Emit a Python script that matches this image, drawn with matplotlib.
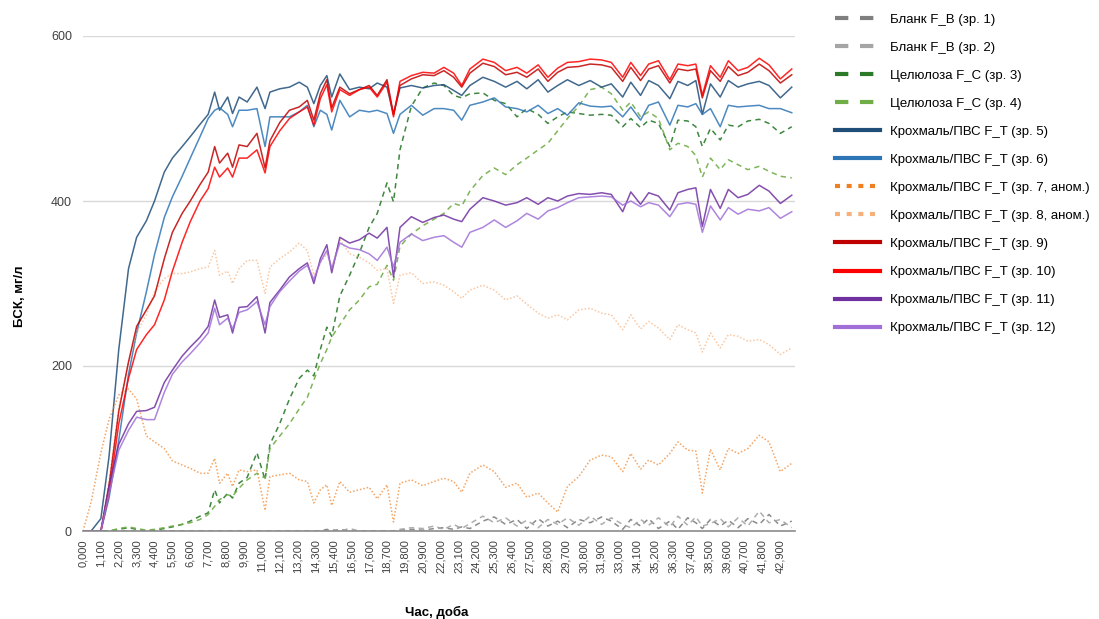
import matplotlib
matplotlib.use("Agg")
import matplotlib.pyplot as plt
from matplotlib.lines import Line2D

plt.rcParams["font.family"] = ["Liberation Sans", "DejaVu Sans"]

# --------------- data ---------------------------------------------------------
days = [0, 0.5, 1.1, 1.6, 2.2, 2.8, 3.3, 3.9, 4.4, 5.0,
        5.5, 6.1, 6.6, 7.2, 7.7, 8.1, 8.4, 8.9, 9.2, 9.6,
        10.1, 10.7, 11.2, 11.5, 12.1, 12.7, 13.3, 13.8, 14.2, 14.6,
        15.0, 15.3, 15.8, 16.4, 17.0, 17.6, 18.1, 18.7, 19.1, 19.5,
        20.2, 20.9, 21.6, 22.2, 22.8, 23.3, 23.8, 24.6, 25.3, 26.0,
        26.7, 27.3, 28.0, 28.6, 29.2, 29.8, 30.5, 31.2, 31.9, 32.5,
        33.2, 33.7, 34.3, 34.8, 35.4, 36.1, 36.6, 37.2, 37.7, 38.1,
        38.6, 39.2, 39.7, 40.3, 40.9, 41.6, 42.2, 42.9, 43.6]

blank_1 = [0, 0, 0, 0, 0, 0, 0, 0, 0, 0,
           0, 0, 0, 0, 0, 0, 0, 0, 0, 0,
           0, 0, 0, 0, 0, 0, 0, 0, 0, 0,
           2, 0, 2, 0, 0, 0, 0, 0, 0, 1,
           2, 1, 3, 4, 2, 5, 3, 12, 17, 8,
           14, 3, 15, 6, 12, 4, 14, 10, 17, 12,
           2, 14, 6, 15, 3, 12, 2, 16, 10, 3,
           14, 6, 13, 4, 15, 8, 20, 6, 12]
blank_2 = [0, 0, 0, 0, 0, 0, 0, 0, 0, 0,
           0, 0, 0, 0, 0, 0, 0, 0, 0, 0,
           0, 0, 0, 0, 0, 0, 0, 0, 0, 0,
           0, 2, 0, 3, 0, 0, 0, 0, 0, 2,
           4, 3, 6, 2, 8, 3, 9, 18, 10, 16,
           6, 13, 4, 14, 8, 16, 7, 18, 8, 16,
           8, 4, 14, 7, 16, 5, 18, 7, 17, 6,
           9, 15, 5, 16, 6, 24, 10, 14, 4]
cell_3 = [0, 0, 0, 0, 2, 4, 2, 0, 1, 3,
          5, 8, 12, 18, 22, 50, 34, 46, 40, 58,
          65, 95, 62, 105, 130, 160, 185, 195, 188, 220,
          247, 236, 285, 310, 337, 368, 385, 422, 399, 462,
          515, 537, 543, 540, 528, 525, 530, 531, 522, 518,
          502, 512, 505, 494, 502, 508, 506, 504, 505, 504,
          490, 500, 489, 498, 494, 466, 498, 497, 490, 466,
          488, 474, 492, 490, 497, 499, 494, 482, 490]
cell_4 = [0, 0, 0, 0, 3, 5, 3, 1, 2, 4,
          6, 8, 10, 14, 20, 30, 38, 44, 42, 52,
          62, 70, 64, 100, 115, 130, 148, 162, 183, 203,
          220, 235, 250, 268, 280, 296, 299, 322, 304, 345,
          360, 370, 378, 385, 397, 394, 412, 431, 440, 432,
          444, 452, 462, 470, 485, 500, 515, 535, 538, 530,
          510, 520, 502, 508, 500, 462, 470, 466, 455, 429,
          452, 438, 450, 444, 438, 442, 436, 430, 428]
st_5 = [0, 0, 15, 90, 220, 318, 356, 376, 400, 435,
        452, 466, 478, 493, 505, 532, 510, 526, 506, 526,
        520, 538, 512, 532, 536, 538, 544, 538, 518, 540,
        552, 526, 554, 535, 538, 536, 543, 538, 505, 537,
        540, 537, 540, 541, 534, 528, 540, 550, 545, 538,
        545, 536, 547, 532, 540, 547, 540, 546, 538, 542,
        526, 544, 528, 546, 540, 524, 545, 540, 546, 505,
        542, 526, 546, 538, 542, 545, 540, 525, 538]
st_6 = [0, 0, 0, 40, 110, 190, 240, 290, 335, 380,
        405, 430, 452, 478, 500, 510, 513, 505, 490, 510,
        510, 512, 466, 502, 502, 502, 508, 516, 490, 510,
        505, 486, 522, 502, 510, 508, 510, 506, 482, 505,
        516, 504, 512, 512, 510, 498, 516, 520, 525, 514,
        512, 508, 516, 506, 512, 504, 519, 515, 514, 515,
        502, 514, 498, 516, 520, 492, 516, 514, 518, 505,
        512, 490, 516, 514, 515, 516, 512, 512, 507]
st_7 = [0, 35, 95, 135, 165, 172, 160, 115, 108, 100,
        85, 80, 76, 70, 70, 88, 58, 70, 54, 74,
        72, 74, 25, 66, 68, 70, 62, 60, 34, 50,
        56, 31, 60, 47, 50, 53, 39, 56, 11, 58,
        62, 55, 60, 64, 60, 47, 70, 80, 72, 53,
        58, 41, 46, 34, 23, 54, 66, 86, 92, 90,
        72, 94, 75, 86, 80, 94, 108, 98, 97, 46,
        99, 74, 100, 94, 100, 116, 108, 72, 82]
st_8 = [0, 0, 0, 60, 150, 205, 240, 262, 290, 306,
        312, 312, 314, 318, 320, 340, 310, 315, 300, 318,
        328, 328, 288, 320, 330, 338, 349, 340, 310, 325,
        336, 320, 353, 336, 332, 325, 316, 318, 276, 310,
        313, 300, 302, 298, 290, 282, 292, 298, 292, 280,
        285, 275, 264, 258, 262, 256, 268, 270, 264, 262,
        244, 262, 245, 254, 246, 232, 250, 244, 240, 217,
        240, 222, 238, 236, 230, 232, 226, 214, 222]
st_9 = [0, 0, 0, 55, 145, 205, 248, 268, 285, 330,
        362, 385, 400, 420, 435, 466, 446, 458, 441, 468,
        466, 482, 440, 473, 495, 510, 514, 522, 498, 530,
        547, 513, 538, 530, 535, 540, 528, 547, 505, 540,
        548, 553, 552, 558, 550, 538, 555, 567, 563, 553,
        556, 550, 560, 545, 556, 562, 563, 566, 565, 562,
        545, 562, 546, 560, 564, 543, 560, 558, 560, 525,
        558, 545, 563, 552, 556, 566, 558, 543, 553]
st_10 = [0, 0, 0, 45, 130, 185, 220, 238, 250, 280,
         315, 350, 375, 400, 415, 441, 429, 440, 429, 452,
         452, 462, 434, 466, 485, 500, 508, 514, 492, 524,
         541, 508, 535, 528, 535, 538, 526, 544, 502, 545,
         552, 556, 555, 562, 555, 540, 560, 572, 568, 558,
         562, 555, 565, 550, 561, 568, 569, 572, 571, 568,
         550, 568, 552, 566, 570, 547, 566, 564, 566, 528,
         564, 550, 570, 558, 562, 573, 565, 548, 560]
st_11 = [0, 0, 0, 55, 105, 130, 145, 146, 150, 180,
         195, 212, 223, 235, 248, 280, 259, 262, 240, 271,
         272, 284, 240, 277, 292, 308, 318, 325, 300, 330,
         347, 313, 356, 349, 353, 361, 355, 368, 308, 368,
         381, 374, 380, 383, 378, 375, 390, 404, 400, 395,
         398, 404, 396, 404, 400, 406, 409, 408, 410, 408,
         387, 411, 396, 410, 406, 389, 410, 414, 416, 369,
         414, 391, 414, 404, 408, 419, 412, 397, 407]
st_12 = [0, 0, 0, 45, 98, 122, 138, 135, 135, 168,
         190, 205, 215, 228, 240, 270, 250, 258, 245, 265,
         268, 278, 250, 272, 290, 303, 315, 322, 305, 326,
         340, 318, 349, 343, 341, 336, 328, 344, 320, 350,
         360, 352, 356, 358, 350, 344, 362, 368, 377, 368,
         376, 385, 378, 388, 392, 398, 404, 405, 406, 405,
         395, 400, 393, 398, 395, 381, 396, 398, 396, 362,
         394, 377, 392, 384, 390, 388, 392, 379, 387]

labels = ["Бланк F_B (зр. 1)", "Бланк F_B (зр. 2)",
          "Целюлоза F_C (зр. 3)", "Целюлоза F_C (зр. 4)",
          "Крохмаль/ПВС F_T (зр. 5)", "Крохмаль/ПВС F_T (зр. 6)",
          "Крохмаль/ПВС F_T (зр. 7, аном.)", "Крохмаль/ПВС F_T (зр. 8, аном.)",
          "Крохмаль/ПВС F_T (зр. 9)", "Крохмаль/ПВС F_T (зр. 10)",
          "Крохмаль/ПВС F_T (зр. 11)", "Крохмаль/ПВС F_T (зр. 12)"]

xtick_days = [round(i * 1.1, 1) for i in range(40)]
xtick_labels = [f"{d:.3f}".replace(".", ",") for d in xtick_days]
ytick_vals = [0, 200, 400, 600]

# --------------- styles -------------------------------------------------------
series = [blank_1, blank_2, cell_3, cell_4, st_5, st_6,
          st_7, st_8, st_9, st_10, st_11, st_12]
colors = ["#7F7F7F", "#A5A5A5", "#2A7A2A", "#70AD47", "#1F4E79", "#2E75B6",
          "#F07F22", "#F7B07A", "#C00000", "#FF0000", "#7030A0", "#A070D8"]
kind = ["dash", "dash", "dash", "dash", "solid", "solid",
        "dot", "dot", "solid", "solid", "solid", "solid"]

fig = plt.figure(figsize=(10.99, 6.19), dpi=100)
ax = fig.add_axes([83 / 1099, 88 / 619, 712 / 1099, 495 / 619])

for vals, c, k in zip(series, colors, kind):
    if k == "dash":
        ax.plot(days, vals, color=c, lw=1.1, alpha=0.9, dashes=(3.5, 2.8))
    elif k == "dot":
        ax.plot(days, vals, color=c, lw=1.1, alpha=0.7, dashes=(1.0, 1.3))
    else:
        ax.plot(days, vals, color=c, lw=1.1, alpha=0.85)

ax.set_xlim(0, 43.8)
ax.set_ylim(0, 600)
ax.set_yticks(ytick_vals)
ax.set_yticklabels([str(v) for v in ytick_vals], fontsize=9, color="#404040")
ax.set_xticks(xtick_days)
ax.set_xticklabels(xtick_labels, rotation=90, fontsize=8, color="#404040")
ax.tick_params(axis="both", length=0)
ax.tick_params(axis="x", pad=6)
ax.tick_params(axis="y", pad=8)
ax.grid(axis="y", color="#D9D9D9", lw=1)
ax.set_axisbelow(True)
for s in ["top", "right", "left"]:
    ax.spines[s].set_visible(False)
ax.spines["bottom"].set_color("#8C8C8C")
ax.spines["bottom"].set_linewidth(1.2)

ax.set_xlabel("Час, доба", fontsize=9.5, fontweight="bold", va="center")
ax.xaxis.set_label_coords(0.497, -0.165)
ax.set_ylabel("БСК, мг/л", fontsize=9.5, fontweight="bold", va="center")
ax.yaxis.set_label_coords(-0.088, 0.475)

# legend with thicker handles, like the reference
handles = []
for c, k in zip(colors, kind):
    if k == "dash":
        handles.append(Line2D([], [], color=c, lw=3, dashes=(3.2, 2.8)))
    elif k == "dot":
        handles.append(Line2D([], [], color=c, lw=3, dashes=(1.2, 1.6)))
    else:
        handles.append(Line2D([], [], color=c, lw=3))
fig.legend(handles, labels, loc="upper left", bbox_to_anchor=(830 / 1099, 1 - 8 / 619),
           frameon=False, fontsize=9.5, handlelength=3.4, handletextpad=0.75,
           labelspacing=1.2, borderaxespad=0)

fig.savefig("out.png", dpi=100)
